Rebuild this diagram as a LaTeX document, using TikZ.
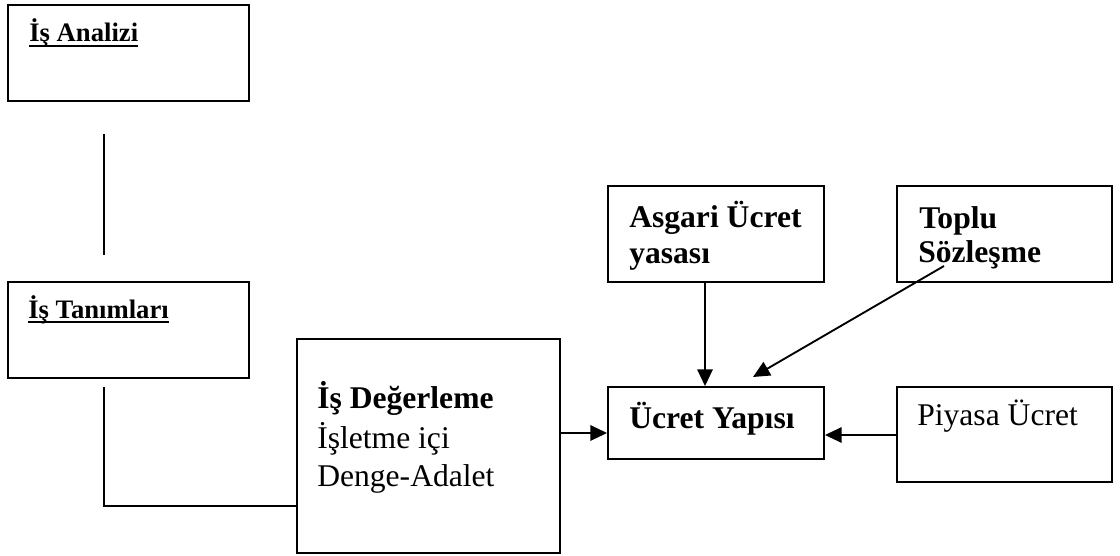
\documentclass[tikz,border=0pt]{standalone}
\usepackage{fontspec}
\setmainfont{Liberation Serif}
\usetikzlibrary{arrows.meta,fit}
\newcommand{\ulbox}[1]{\setbox0\hbox{#1}\rlap{\rule[-3.75pt]{\wd0}{1.8pt}}\box0}
\begin{document}
\begin{tikzpicture}[x=0.75pt,y=-0.75pt,
 box/.style={draw, line width=1.4pt, inner sep=0pt},
 lbl/.style={inner sep=0pt, anchor=base west, font=\fontsize{23.7}{28}\selectfont},
 blbl/.style={inner sep=0pt, anchor=base west, font=\fontsize{23.7}{28}\selectfont\bfseries},
 hdr/.style={inner sep=0pt, anchor=base west, font=\fontsize{20}{24}\selectfont\bfseries},
 conn/.style={line width=1.4pt},
 arr/.style={conn, -{Triangle[length=12.5pt,width=11.5pt]}}]
\useasboundingbox (0,0) rectangle (1120,556);
% boxes
\node[box, fit={(8,5) (249,101)}] (ana) {};
\node[box, fit={(8,282) (249,378)}] (tan) {};
\node[box, fit={(297,339) (560,553)}] (deg) {};
\node[box, fit={(608,387) (824,459)}] (ucr) {};
\node[box, fit={(608,186) (824,282)}] (asg) {};
\node[box, fit={(897,186) (1112,282)}] (top) {};
\node[box, fit={(897,387) (1112,482)}] (piy) {};
% texts
\node[hdr] (anaT) at (29,42) {\ulbox{İş Analizi}};
\node[hdr] (tanT) at (28,318) {\ulbox{İş Tanımları}};
\node[blbl] (asgT1) at (629,227) {Asgari Ücret};
\node[blbl] (asgT2) at (629,263) {yasası};
\node[blbl] (topT1) at (919,228) {Toplu};
\node[blbl] (topT2) at (918,262) {Sözleşme};
\node[blbl] (ucrT) at (629,428) {Ücret Yapısı};
\node[lbl] (piyT) at (917,425) {Piyasa Ücret};
\node[blbl] (degT1) at (317,408) {İş Değerleme};
\node[lbl] (degT2) at (317,448) {İşletme içi};
\node[lbl] (degT3) at (317,486) {Denge-Adalet};
% helper coordinates
\coordinate (v1a) at (104,134);
\coordinate (v1b) at (104,255);
\coordinate (v2a) at (104,387);
\coordinate (h506) at (0,506);
\coordinate (y433) at (0,433);
\coordinate (y435) at (0,435);
\coordinate (x705) at (705,0);
\coordinate (tS) at (944,266);
\coordinate (tE) at (753,377);
% connectors
\draw[conn] (v1a) -- (v1b);
\draw[conn] (v2a) |- (deg.west |- h506);
\draw[arr] (deg.east |- y433) -- (ucr.west |- y433);
\draw[arr] (asg.south -| x705) -- (ucr.north -| x705);
\draw[arr] (tS) -- (tE);
\draw[arr] (piy.west |- y435) -- (ucr.east |- y435);
\end{tikzpicture}
\end{document}
